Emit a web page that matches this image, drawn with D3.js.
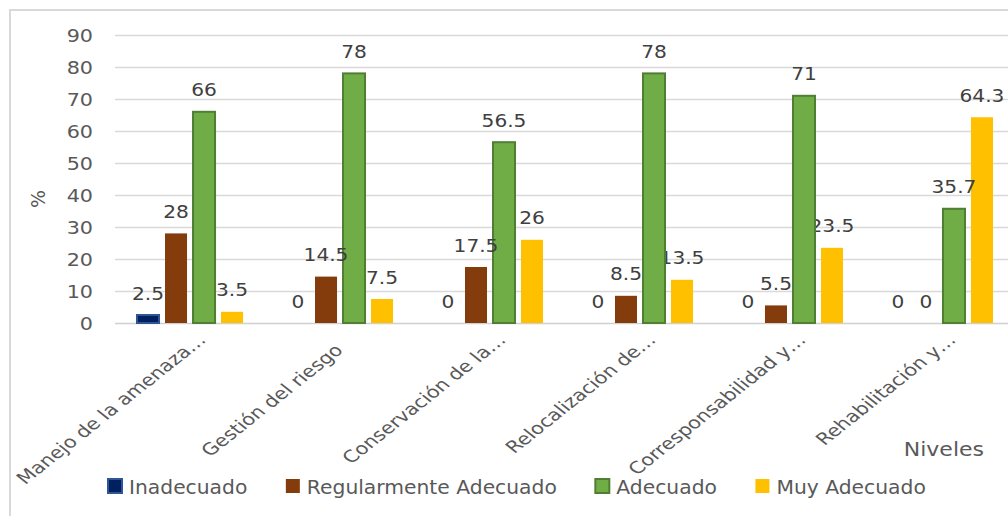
<!DOCTYPE html>
<html>
<head>
<meta charset="utf-8">
<script src="https://cdn.jsdelivr.net/npm/d3@7"></script>
<style>
  html, body { margin: 0; padding: 0; background: #fff; }
  svg { display: block; font-family: "DejaVu Sans", sans-serif; }
</style>
</head>
<body>
<svg id="chart" width="1008" height="516"></svg>
<script>
// Categories (levels) and the percentage for each rating
const categories = [
  "Manejo de la amenaza…",
  "Gestión del riesgo",
  "Conservación de la…",
  "Relocalización de…",
  "Corresponsabilidad y…",
  "Rehabilitación y…"
];
const seriesNames = ["Inadecuado", "Regularmente Adecuado", "Adecuado", "Muy Adecuado"];
const inadecuado = [2.5, 0, 0, 0, 0, 0];
const regularmente = [28, 14.5, 17.5, 8.5, 5.5, 0];
const adecuado = [66, 78, 56.5, 78, 71, 35.7];
const muyAdecuado = [3.5, 7.5, 26, 13.5, 23.5, 64.3];
const yTicks = [0, 10, 20, 30, 40, 50, 60, 70, 80, 90];

const seriesValues = [inadecuado, regularmente, adecuado, muyAdecuado];
const fills = ["#002060", "#843c0c", "#70ad47", "#ffc000"];
const strokes = ["#2f5597", "none", "#507e32", "none"];

const svg = d3.select("#chart");
const W = 1008, H = 516;
const plot = { left: 115, right: 1015, top: 35, bottom: 323 };

// outer frame
svg.append("rect").attr("x", 10).attr("y", 10)
  .attr("width", W + 20).attr("height", H + 20)
  .attr("fill", "#fff").attr("stroke", "#d9d9d9").attr("stroke-width", 2);

const x0 = d3.scaleBand().domain(categories)
  .range([plot.left, plot.right]).paddingInner(0.293).paddingOuter(0.1467);
const x1 = d3.scaleBand().domain(seriesNames)
  .range([0, x0.bandwidth()]).paddingInner(0.214).paddingOuter(0);
const y = d3.scaleLinear().domain([0, 90]).range([plot.bottom, plot.top]);

// gridlines
svg.append("g").selectAll("line").data(yTicks).join("line")
  .attr("x1", plot.left).attr("x2", W + 20)
  .attr("y1", d => Math.round(y(d)) + 0.5).attr("y2", d => Math.round(y(d)) + 0.5)
  .attr("stroke", d => d === 0 ? "#d0d0d0" : "#d9d9d9").attr("stroke-width", 1.5);

// y tick labels
svg.append("g").selectAll("g").data(yTicks).join("g")
  .attr("transform", d => `translate(93,${y(d) + 6.5}) scale(1.15,1)`)
  .append("text")
  .attr("text-anchor", "end").attr("font-size", 18).attr("fill", "#595959")
  .text(d => d);

// y axis title
svg.append("text")
  .attr("transform", "translate(45,199) rotate(-90)")
  .attr("text-anchor", "middle").attr("font-size", 19).attr("fill", "#595959")
  .text("%");

// bars and value labels, one layer per series (last series drawn first)
const seriesLayers = svg.append("g");
[3, 2, 1, 0].forEach(j => {
  const rows = categories.map((c, i) => ({ cat: c, ser: seriesNames[j], j, v: seriesValues[j][i] }));
  const layer = seriesLayers.append("g");
  layer.selectAll("rect").data(rows.filter(d => d.v > 0)).join("rect")
    .attr("x", d => x0(d.cat) + x1(d.ser))
    .attr("y", d => y(d.v))
    .attr("width", x1.bandwidth())
    .attr("height", d => y(0) - y(d.v))
    .attr("fill", fills[j])
    .attr("stroke", strokes[j])
    .attr("stroke-width", 2);
  layer.selectAll("g").data(rows).join("g")
    .attr("transform", d => `translate(${x0(d.cat) + x1(d.ser) + x1.bandwidth() / 2},${y(d.v) - 15.5}) scale(1.12,1)`)
    .append("text")
    .attr("text-anchor", "middle").attr("font-size", 18).attr("fill", "#404040")
    .text(d => d.v);
});

// category labels, rotated 45° on a horizontally widened frame
svg.append("g").selectAll("text").data(categories).join("text")
  .attr("transform", d => `translate(${x0(d) + x0.bandwidth() / 2 + 17},341) scale(1.26,1) rotate(-45)`)
  .attr("dx", d => d.endsWith("…") ? 0 : -14.5)
  .attr("text-anchor", "end").attr("font-size", 16.6).attr("fill", "#595959")
  .text(d => d);

// x axis title
svg.append("g").attr("transform", "translate(984,456) scale(1.1,1)")
  .append("text").attr("text-anchor", "end").attr("font-size", 20).attr("fill", "#595959")
  .text("Niveles");

// legend
const legend = svg.append("g");
let lx = 108;
seriesNames.forEach((s, j) => {
  const g = legend.append("g").attr("transform", `translate(${lx},0)`);
  g.append("rect").attr("x", 0).attr("y", 479).attr("width", 14).attr("height", 14)
    .attr("fill", fills[j])
    .attr("stroke", strokes[j]).attr("stroke-width", 2);
  const t = g.append("text").attr("x", 21).attr("y", 493.5)
    .attr("font-size", 20.3).attr("fill", "#595959").text(s);
  lx += 21 + t.node().getComputedTextLength() + 38.5;
});
</script>
</body>
</html>
